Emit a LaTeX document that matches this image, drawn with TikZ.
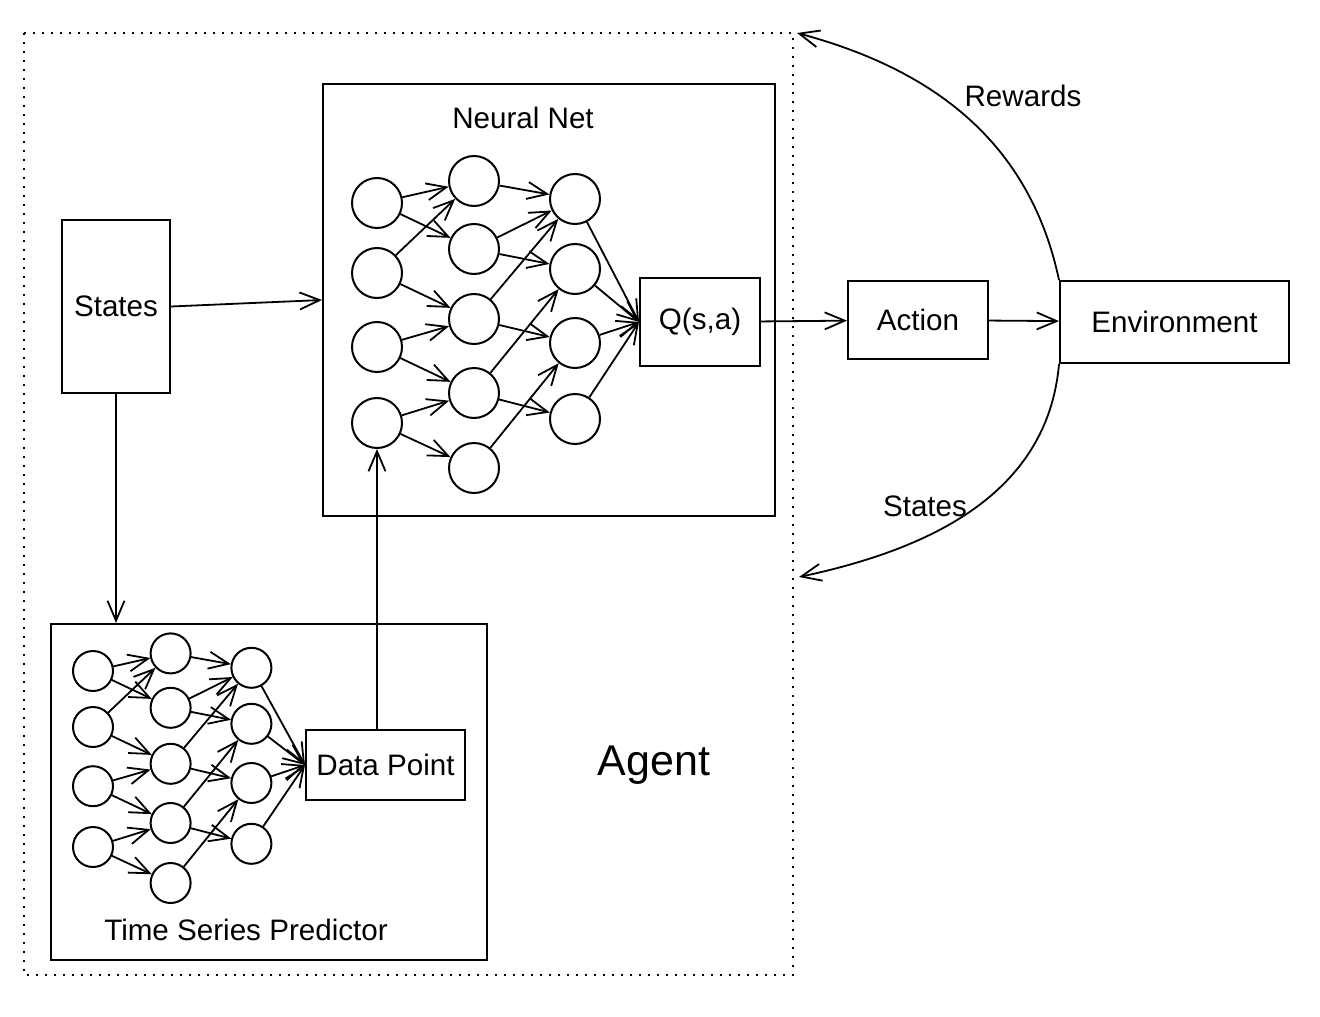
\documentclass[tikz,border=0pt]{standalone}
\usepackage{fontspec}
\setmainfont{Liberation Sans}
\usetikzlibrary{arrows.meta}

% one small feed-forward net: layers a, b, c
\newcommand{\netlayers}[1]{%
  \foreach \y [count=\i] in {0,70,144,220}
    \node[neuron] (#1a\i) at (0,\y) {};
  \foreach \y [count=\i] in {-22,46,116,190,265}
    \node[neuron] (#1b\i) at (97,\y) {};
  \foreach \y [count=\i] in {-4,66,140,216}
    \node[neuron] (#1c\i) at (198,\y) {};
  \foreach \s/\t in {a1/b1,a1/b2,a2/b1,a2/b3,a3/b3,a3/b4,a4/b4,a4/b5,
                     b1/c1,b2/c1,b2/c2,b3/c1,b3/c3,b4/c2,b4/c4,b5/c3}
    \draw[link] (#1\s) -- (#1\t);
}

\begin{document}
\begin{tikzpicture}[x=0.5pt,y=-0.5pt,
    every node/.style={font=\fontsize{14.8}{18}\selectfont},
    box/.style={draw,line width=1pt,inner sep=0pt},
    neuron/.style={circle,draw,line width=1pt,minimum size=25pt,inner sep=0pt},
    link/.style={line width=.9pt,-{Straight Barb[length=10pt,width=8.5pt]}}]
  \useasboundingbox (0,0) rectangle (1320,1016);
  \draw[line width=1pt,dash pattern=on 1pt off 3.5pt] (24,33) rectangle (793,975);
  \node[font=\fontsize{21.5}{26}\selectfont] (agent) at (654,765) {Agent};

  \node[box,minimum width=54pt,minimum height=86.5pt] (states) at (116,306.5) {States};
  \node[box,minimum width=226pt,minimum height=216pt] (nnbox) at (549,300) {};
  \node (nnlbl) at (523,118) {Neural Net};
  \node[box,minimum width=218pt,minimum height=168pt] (tsbox) at (269,792) {};
  \node (tslbl) at (246,930) {Time Series Predictor};

  \begin{scope}[shift={(377,203)}]
    \netlayers{nn}
  \end{scope}
  \begin{scope}[shift={(93,671)},scale=.8,transform shape]
    \netlayers{ts}
  \end{scope}

  \node[box,minimum width=60pt,minimum height=44pt] (qsa) at (700,322) {Q(s,a)};
  \node[box,minimum width=79.5pt,minimum height=35pt] (dpoint) at (385.5,765) {Data Point};
  \node[box,minimum width=70pt,minimum height=39pt] (action) at (918,320) {Action};
  \node[box,minimum width=114.5pt,minimum height=41pt] (env) at (1174.5,322) {Environment\hspace{7pt}};

  \foreach \i in {1,...,4} {
    \draw[link] (nnc\i) -- (qsa.west);
    \draw[link] (tsc\i) -- (dpoint.west);
  }

  \draw[link] (states.east) -- (nnbox.west);
  \draw[link] (states.south) -- (states.south |- tsbox.north);
  \draw[link] (dpoint.north -| nna4) -- (nna4);
  \draw[link] (qsa) -- (action);
  \draw[link] (action) -- (env);

  \coordinate (rwend) at (797,33);
  \coordinate (stend) at (799,577);
  \draw[link] (env.north west) to[out=102,in=-15] (rwend);
  \draw[link] (env.south west) to[out=-95,in=12] (stend);
  \node (rwlbl) at (1023,96) {Rewards};
  \node (stlbl) at (925,506) {States};
\end{tikzpicture}
\end{document}
